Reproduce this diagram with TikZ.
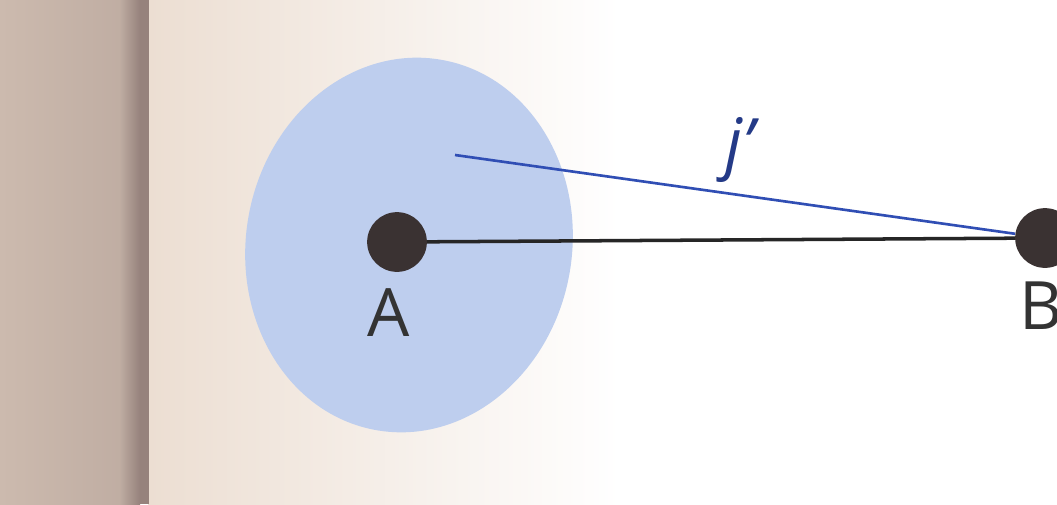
\documentclass[tikz,border=0pt]{standalone}
\usepackage{fontspec}
\setmainfont{Open Sans}
\usepackage{tikz}
\usetikzlibrary{calc,positioning}
\definecolor{pagestrip}{RGB}{204,186,174}
\definecolor{pagefold}{RGB}{150,130,124}
\definecolor{pagecream}{RGB}{236,222,210}
\definecolor{blobblue}{RGB}{190,206,238}
\definecolor{dotgray}{RGB}{58,50,50}
\definecolor{jblue}{RGB}{48,78,180}
\tikzset{
    point/.style={
        circle,inner sep=0pt,
        minimum size=34,
        fill=dotgray
    },
    point label/.style={
        font=\fontsize{38}{42}\selectfont,
        text=black!80
    },
    segment/.style={line width=2pt,black!85},
    jline/.style={line width=1.5pt,jblue}
}

\begin{document}
\begin{tikzpicture}[x=0.02cm,y=-0.02cm]
\useasboundingbox (0,0) rectangle (1057,504);
% scanned page
\fill[white] (0,0) rectangle (1057,504);
\shade[left color=pagecream,right color=white] (148,0) rectangle (620,504);
\shade[left color=pagestrip,right color=pagestrip!75!pagefold] (0,0) rectangle (136,504);
\shade[left color=pagestrip!75!pagefold,right color=pagefold] (120,0) rectangle (140,504);
\fill[pagefold] (140,0) rectangle (149,504);
% region round A
\fill[blobblue,rotate around={-10:(409,245)}] (409,245) ellipse [x radius=163,y radius=188];

\coordinate (jstart) at (455,155);
\node[point] (A) at (397,242) {};
\node[point] (B) at (1045,238) {};
\draw[segment] (A) -- (B);
\draw[jline] (jstart) -- (B);

\node[point label] (labA) at (389,313) {A};
\node[point label] (labB) at (1041,306) {B};
\node[point label,text=jblue!75!black,font=\fontsize{38}{42}\selectfont\itshape] (labj) at (740,150) {j'};
\end{tikzpicture}
\end{document}
